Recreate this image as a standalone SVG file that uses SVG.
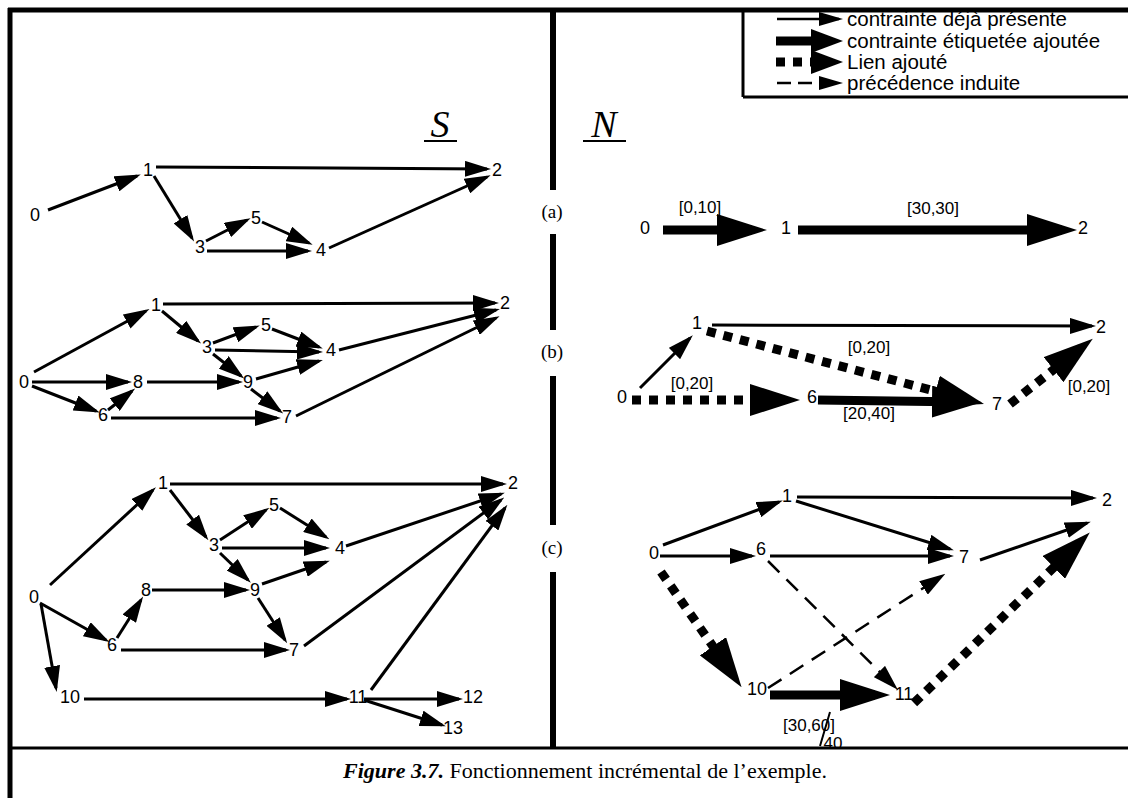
<svg xmlns="http://www.w3.org/2000/svg" width="1128" height="798" viewBox="0 0 1128 798">
<style>
.bg{fill:#fff}
.fr{stroke:#000;fill:none}
.lbl{font-family:"Liberation Sans",Arial,sans-serif;font-size:18px;fill:#000;text-anchor:middle}
.elb{font-family:"Liberation Sans",Arial,sans-serif;font-size:17px;fill:#000;text-anchor:middle}
.leg{font-family:"Liberation Sans",Arial,sans-serif;font-size:20.5px;fill:#000}
.sec{font-family:"Liberation Serif","Times New Roman",serif;font-size:19px;fill:#000;text-anchor:middle}
.sym{font-family:"Liberation Serif","Times New Roman",serif;font-style:italic;font-size:38px;fill:#000;text-anchor:middle}
.cap{font-family:"Liberation Serif","Times New Roman",serif;font-size:22px;fill:#000}
.thin{stroke:#000;stroke-width:3;fill:none;marker-end:url(#ah)}
.thick{stroke:#000;stroke-width:9;fill:none;marker-end:url(#big)}
.dot{stroke:#000;stroke-width:9;stroke-dasharray:9 8;fill:none;marker-end:url(#big)}
.dash{stroke:#000;stroke-width:2.5;stroke-dasharray:16 10;fill:none;marker-end:url(#ah)}
.lthin{stroke:#000;stroke-width:2.5;fill:none;marker-end:url(#lsm)}
.lthick{stroke:#000;stroke-width:9;fill:none;marker-end:url(#lbig)}
.ldot{stroke:#000;stroke-width:9;stroke-dasharray:9 8;fill:none;marker-end:url(#lbig)}
.ldash{stroke:#000;stroke-width:2.5;stroke-dasharray:14 7;fill:none;marker-end:url(#lsm)}
</style>
<defs>
<marker id="ah" markerUnits="userSpaceOnUse" markerWidth="26" markerHeight="16" refX="22" refY="8" orient="auto"><path d="M0,0 L26,8 L0,16 z" fill="#000" stroke="none"/></marker>
<marker id="big" markerUnits="userSpaceOnUse" markerWidth="50" markerHeight="32" refX="35" refY="16" orient="auto"><path d="M0,0 L50,16 L0,32 z" fill="#000" stroke="none"/></marker>
<marker id="lsm" markerUnits="userSpaceOnUse" markerWidth="24" markerHeight="14" refX="20" refY="7" orient="auto"><path d="M0,0 L24,7 L0,14 z" fill="#000" stroke="none"/></marker>
<marker id="lbig" markerUnits="userSpaceOnUse" markerWidth="32" markerHeight="24" refX="18" refY="12" orient="auto"><path d="M0,0 L32,12 L0,24 z" fill="#000" stroke="none"/></marker>
</defs>
<rect class="bg" x="0" y="0" width="1128" height="798"/>
<g id="frame">
<line class="fr" x1="8" y1="10" x2="1128" y2="10" stroke-width="5"/>
<line class="fr" x1="10" y1="8" x2="10" y2="798" stroke-width="5"/>
<line class="fr" x1="10" y1="748" x2="1128" y2="748" stroke-width="3"/>
<line class="fr" x1="553" y1="10" x2="553" y2="190" stroke-width="6"/>
<line class="fr" x1="553" y1="234" x2="553" y2="330" stroke-width="6"/>
<line class="fr" x1="553" y1="376" x2="553" y2="525" stroke-width="6"/>
<line class="fr" x1="553" y1="572" x2="553" y2="748" stroke-width="6"/>
<line class="fr" x1="743" y1="10" x2="743" y2="97" stroke-width="3"/>
<line class="fr" x1="743" y1="97" x2="1128" y2="97" stroke-width="3"/>
</g>
<g id="legend">
<line class="lthin" x1="777" y1="19" x2="839" y2="19"/>
<text class="leg" x="847" y="26">contrainte déjà présente</text>
<line class="lthick" x1="776" y1="41" x2="829" y2="41"/>
<text class="leg" x="847" y="48">contrainte étiquetée ajoutée</text>
<line class="ldot" x1="776" y1="62" x2="829" y2="62"/>
<text class="leg" x="847" y="69">Lien ajouté</text>
<line class="ldash" x1="777" y1="83" x2="839" y2="83"/>
<text class="leg" x="847" y="90">précédence induite</text>
</g>
<g id="titles">
<text class="sym" x="440" y="137">S</text>
<line class="fr" x1="424" y1="141" x2="457" y2="141" stroke-width="2"/>
<text class="sym" x="604" y="137">N</text>
<line class="fr" x1="583" y1="141" x2="626" y2="141" stroke-width="2"/>
<text class="sec" x="552" y="218">(a)</text>
<text class="sec" x="552" y="358">(b)</text>
<text class="sec" x="552" y="554">(c)</text>
</g>
<g id="connectors">
<path class="thin" d="M48,210 L137,176"/>
<path class="thin" d="M156,167 L487,169"/>
<path class="thin" d="M154,176 L192,238"/>
<path class="thin" d="M206,241 L247,220"/>
<path class="thin" d="M262,222 L309,243"/>
<path class="thin" d="M207,251 L308,251"/>
<path class="thin" d="M329,248 L487,177"/>
<path class="thin" d="M34,372 L146,311"/>
<path class="thin" d="M163,304 L495,303"/>
<path class="thin" d="M162,311 L198,341"/>
<path class="thin" d="M213,343 L256,327"/>
<path class="thin" d="M272,329 L319,347"/>
<path class="thin" d="M215,350 L319,352"/>
<path class="thin" d="M213,354 L241,376"/>
<path class="thin" d="M256,379 L319,361"/>
<path class="thin" d="M32,382 L128,382"/>
<path class="thin" d="M147,382 L239,382"/>
<path class="thin" d="M32,386 L96,411"/>
<path class="thin" d="M108,410 L132,391"/>
<path class="thin" d="M111,418 L277,418"/>
<path class="thin" d="M251,389 L280,411"/>
<path class="thin" d="M339,350 L496,310"/>
<path class="thin" d="M296,416 L496,318"/>
<path class="thin" d="M50,585 L153,490"/>
<path class="thin" d="M170,484 L503,484"/>
<path class="thin" d="M170,490 L206,537"/>
<path class="thin" d="M220,540 L266,510"/>
<path class="thin" d="M280,508 L326,537"/>
<path class="thin" d="M222,548 L326,548"/>
<path class="thin" d="M220,553 L248,580"/>
<path class="thin" d="M262,584 L326,562"/>
<path class="thin" d="M152,590 L246,590"/>
<path class="thin" d="M258,598 L285,640"/>
<path class="thin" d="M40,603 L106,640"/>
<path class="thin" d="M117,638 L141,600"/>
<path class="thin" d="M121,650 L286,650"/>
<path class="thin" d="M41,604 L56,688"/>
<path class="thin" d="M84,699 L347,699"/>
<path class="thin" d="M364,699 L459,699"/>
<path class="thin" d="M364,700 L442,725"/>
<path class="thin" d="M346,546 L501,494"/>
<path class="thin" d="M304,646 L501,500"/>
<path class="thin" d="M371,690 L505,508"/>
<path class="thick" d="M663,230 L752,230"/>
<path class="thick" d="M798,230 L1062,230"/>
<path class="thin" d="M640,388 L690,338"/>
<path class="thin" d="M712,325 L1092,326"/>
<path class="dot" d="M707,331 L969.5,400.2"/>
<path class="dot" d="M632,400 L785,400"/>
<path class="thick" d="M818,400 L967,402"/>
<path class="dot" d="M1010,404 L1081,348"/>
<path class="thin" d="M663,545 L779,502"/>
<path class="thin" d="M797,497 L1093,498"/>
<path class="thin" d="M796,501 L950,549"/>
<path class="thin" d="M660,556 L752,556"/>
<path class="thin" d="M770,556 L950,556"/>
<path class="thin" d="M980,560 L1087,523"/>
<path class="dot" d="M661,572 L733,675"/>
<path class="thick" d="M770,695 L875,695"/>
<path class="dot" d="M914,703 L1079,543"/>
<path class="dash" d="M768,561 L895,687"/>
<path class="dash" d="M768,688 L942,576"/>
</g>
<g id="edge-labels">
<text class="elb" x="700" y="213">[0,10]</text>
<text class="elb" x="933" y="214">[30,30]</text>
<text class="elb" x="692" y="389">[0,20]</text>
<text class="elb" x="869" y="353">[0,20]</text>
<text class="elb" x="869" y="419">[20,40]</text>
<text class="elb" x="1089" y="392">[0,20]</text>
<text class="elb" x="809" y="731">[30,60]</text>
<line class="fr" x1="830" y1="712" x2="820" y2="746" stroke-width="2"/>
<text class="elb" x="833" y="749">40</text>
</g>
<g id="S-a">
<g id="Sa0"><text class="lbl" x="35" y="221">0</text></g>
<g id="Sa1"><text class="lbl" x="148" y="176">1</text></g>
<g id="Sa2"><text class="lbl" x="497" y="176">2</text></g>
<g id="Sa3"><text class="lbl" x="200" y="253">3</text></g>
<g id="Sa5"><text class="lbl" x="256" y="224">5</text></g>
<g id="Sa4"><text class="lbl" x="321" y="256">4</text></g>
</g>
<g id="S-b">
<g id="Sb1"><text class="lbl" x="156" y="311">1</text></g>
<g id="Sb2"><text class="lbl" x="505" y="309">2</text></g>
<g id="Sb5"><text class="lbl" x="266" y="331">5</text></g>
<g id="Sb3"><text class="lbl" x="207" y="353">3</text></g>
<g id="Sb4"><text class="lbl" x="331" y="356">4</text></g>
<g id="Sb9"><text class="lbl" x="248" y="388">9</text></g>
<g id="Sb0"><text class="lbl" x="24" y="388">0</text></g>
<g id="Sb8"><text class="lbl" x="138" y="388">8</text></g>
<g id="Sb6"><text class="lbl" x="103" y="421">6</text></g>
<g id="Sb7"><text class="lbl" x="287" y="423">7</text></g>
</g>
<g id="S-c">
<g id="Sc1"><text class="lbl" x="163" y="489">1</text></g>
<g id="Sc2"><text class="lbl" x="513" y="489">2</text></g>
<g id="Sc5"><text class="lbl" x="274" y="511">5</text></g>
<g id="Sc3"><text class="lbl" x="214" y="551">3</text></g>
<g id="Sc4"><text class="lbl" x="340" y="554">4</text></g>
<g id="Sc9"><text class="lbl" x="255" y="596">9</text></g>
<g id="Sc0"><text class="lbl" x="34" y="603">0</text></g>
<g id="Sc8"><text class="lbl" x="146" y="596">8</text></g>
<g id="Sc6"><text class="lbl" x="112" y="651">6</text></g>
<g id="Sc7"><text class="lbl" x="294" y="656">7</text></g>
<g id="Sc10"><text class="lbl" x="70" y="703">10</text></g>
<g id="Sc11"><text class="lbl" x="358" y="703">11</text></g>
<g id="Sc12"><text class="lbl" x="473" y="703">12</text></g>
<g id="Sc13"><text class="lbl" x="453" y="734">13</text></g>
</g>
<g id="N-a">
<g id="Na0"><text class="lbl" x="645" y="234">0</text></g>
<g id="Na1"><text class="lbl" x="786" y="234">1</text></g>
<g id="Na2"><text class="lbl" x="1083" y="234">2</text></g>
</g>
<g id="N-b">
<g id="Nb1"><text class="lbl" x="697" y="329">1</text></g>
<g id="Nb2"><text class="lbl" x="1101" y="333">2</text></g>
<g id="Nb0"><text class="lbl" x="622" y="403">0</text></g>
<g id="Nb6"><text class="lbl" x="812" y="403">6</text></g>
<g id="Nb7"><text class="lbl" x="997" y="410">7</text></g>
</g>
<g id="N-c">
<g id="Nc1"><text class="lbl" x="787" y="502">1</text></g>
<g id="Nc2"><text class="lbl" x="1107" y="506">2</text></g>
<g id="Nc0"><text class="lbl" x="654" y="559">0</text></g>
<g id="Nc6"><text class="lbl" x="761" y="555">6</text></g>
<g id="Nc7"><text class="lbl" x="964" y="563">7</text></g>
<g id="Nc10"><text class="lbl" x="757" y="695">10</text></g>
<g id="Nc11"><text class="lbl" x="904" y="700">11</text></g>
</g>
<g id="caption">
<text class="cap" x="585" y="778" text-anchor="middle"><tspan font-weight="bold" font-style="italic">Figure 3.7.</tspan> Fonctionnement incrémental de l’exemple.</text>
</g>
</svg>
